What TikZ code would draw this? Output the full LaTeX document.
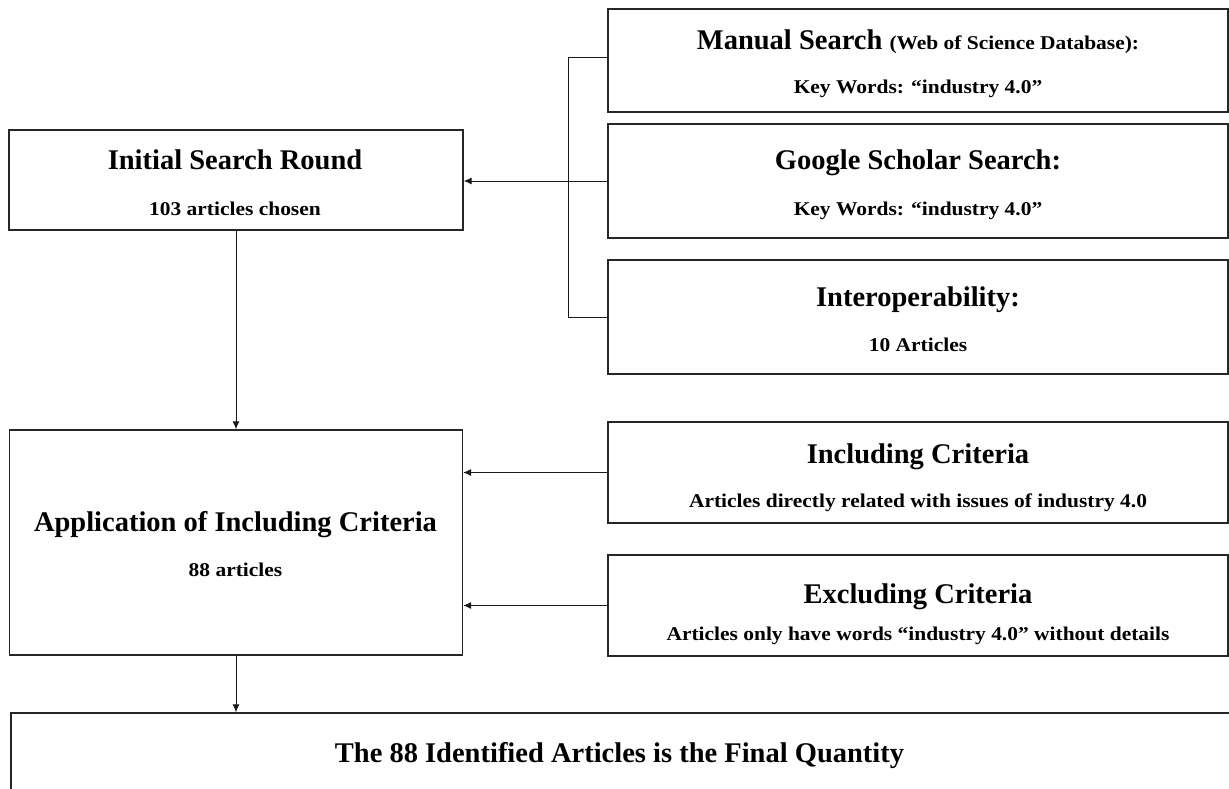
\documentclass[tikz,border=0pt]{standalone}
\usepackage{fontspec}
\setmainfont{Liberation Serif}
\newfontfamily\subfont[FakeStretch=1.1]{Liberation Serif}
\usetikzlibrary{arrows.meta}
\tikzset{
  box/.style={draw=black!85, line width=1.3pt, rectangle, inner sep=0pt, fill=white},
  ttl/.style={anchor=base, inner sep=0pt, font=\bfseries\fontsize{28.5}{30}\selectfont},
  sub/.style={anchor=base, inner sep=0pt, font=\subfont\bfseries\fontsize{19.5}{22}\selectfont},
  conn/.style={draw=black!90, line width=1pt},
  arr/.style={conn, -{Latex[length=8pt,width=7pt]}}
}
\begin{document}
\begin{tikzpicture}[x=1pt,y=-1pt]
\useasboundingbox (0,0) rectangle (1229,789);
\fill[white] (0,0) rectangle (1229,789);
% boxes
\node[box, minimum width=454pt, minimum height=100pt] (init) at (236,180) {};
\node[box, minimum width=453pt, minimum height=225pt] (appl) at (236,542.5) {};
\node[box, minimum width=1221pt, minimum height=100pt] (final) at (621.5,763) {};
\node[box, minimum width=620pt, minimum height=103pt] (manual) at (918,60.5) {};
\node[box, minimum width=620pt, minimum height=114pt] (google) at (918,181) {};
\node[box, minimum width=620pt, minimum height=114pt] (interop) at (918,317) {};
\node[box, minimum width=620pt, minimum height=101pt] (incl) at (918,472.5) {};
\node[box, minimum width=620pt, minimum height=101pt] (excl) at (918,605.5) {};
% texts
\node[ttl] (initT) at (235,169) {Initial Search Round};
\node[sub] (initS) at (235,215) {103 articles chosen};
\node[ttl] (applT) at (235.5,531) {Application of Including Criteria};
\node[sub] (applS) at (235.5,576) {88 articles};
\node[anchor=base, inner sep=0pt] (manT) at (918,50) {\bfseries\fontsize{28.5}{30}\selectfont Manual Search {\subfont\bfseries\fontsize{19.5}{22}\selectfont(Web of Science Database):}};
\node[sub] (manS) at (918,94) {Key Words: “industry 4.0”};
\node[ttl] (gooT) at (918,170) {Google Scholar Search:};
\node[sub] (gooS) at (918,215) {Key Words: “industry 4.0”};
\node[ttl] (intT) at (918,306) {Interoperability:};
\node[sub] (intS) at (918,351) {10 Articles};
\node[ttl] (inclT) at (918,463) {Including Criteria};
\node[sub] (inclS) at (918,507) {Articles directly related with issues of industry 4.0};
\node[ttl] (exclT) at (918,603) {Excluding Criteria};
\node[sub] (exclS) at (918,640) {Articles only have words “industry 4.0” without details};
\node[ttl] (finT) at (619.5,762) {The 88 Identified Articles is the Final Quantity};
% connectors
\coordinate (bus) at (568,0);
\coordinate (mtop) at ([yshift=3pt]manual.west);
\draw[conn] (mtop) -- (mtop -| bus) -- (interop.west -| bus) -- (interop.west);
\draw[arr] (google.west) -- (google.west -| init.east);
\draw[arr] (init.south) -- (appl.north);
\draw[arr] (appl.south) -- (appl.south |- final.north);
\draw[arr] (incl.west) -- (incl.west -| appl.east);
\draw[arr] (excl.west) -- (excl.west -| appl.east);
\end{tikzpicture}
\end{document}
